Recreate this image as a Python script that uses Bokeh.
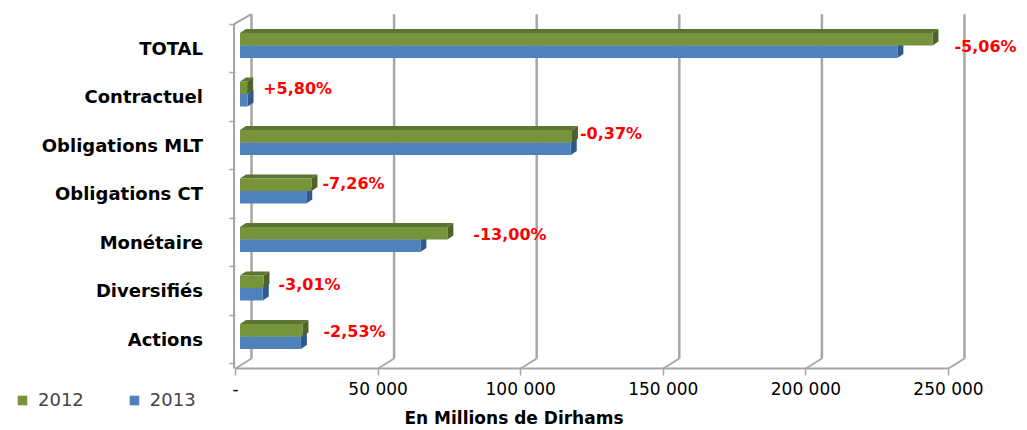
from bokeh.plotting import figure
from bokeh.models import ColumnDataSource, FixedTicker, Legend, LegendItem
from bokeh.embed import file_html
from bokeh.resources import INLINE
from bokeh.core.properties import value

# ---------------- data ----------------
categories = ["Actions", "Diversifiés", "Monétaire", "Obligations CT",
              "Obligations MLT", "Contractuel", "TOTAL"]
values_2012 = [21900, 8230, 72700, 25050, 116400, 2500, 242800]
values_2013 = [21350, 7980, 63250, 23230, 115970, 2645, 230500]
changes = ["-2,53%", "-3,01%", "-13,00%", "-7,26%", "-0,37%", "+5,80%", "-5,06%"]
series_names = ["2012", "2013"]
x_ticks = [0, 50000, 100000, 150000, 200000, 250000]
x_tick_labels = ["-", "50 000", "100 000", "150 000", "200 000", "250 000"]
x_title = "En Millions de Dirhams"

# ---------------- layout / style ----------------
W, H = 1027, 430
PX = 50000 / 142.6          # data units per pixel (x)
PY = 1 / 48.5               # data units per pixel (y)
X0_PX, YF_PX = 235, 368     # pixel position of value 0 and of the floor front edge
y_front = -0.6
x_start = -X0_PX * PX
y_start = y_front - (H - YF_PX) * PY

GREEN, GREEN_SIDE, GREEN_TOP = "#77933C", "#4F6228", "#5C7530"
BLUE, BLUE_SIDE, BLUE_TOP = "#4F81BD", "#2E5A8E", "#3A6AA3"
GRID = "#A6A6A6"

p = figure(width=W, height=H,
           x_range=(x_start, x_start + W * PX),
           y_range=(y_start, y_start + H * PY),
           output_backend="svg", toolbar_location=None,
           min_border=0, min_border_left=0, min_border_right=0,
           min_border_top=0, min_border_bottom=0)
p.outline_line_color = None
p.title.visible = False
p.xgrid.visible = False
p.ygrid.visible = False

# ---------------- walls / floor ----------------
n_cat = len(categories)
dxw, dyw = 16 * PX, 10 * PY
floor_back = y_front + dyw
top_front = n_cat - 0.5
top_back = top_front + dyw
gx = [t + dxw for t in x_ticks]
p.segment(x0=gx, y0=[floor_back] * len(gx), x1=gx, y1=[top_back] * len(gx),
          line_color=GRID, line_width=2.5)
p.segment(x0=x_ticks, y0=[y_front] * len(gx), x1=gx, y1=[floor_back] * len(gx),
          line_color=GRID, line_width=1.8)
p.segment(x0=[x_ticks[0]], y0=[y_front], x1=[x_ticks[-1]], y1=[y_front],
          line_color=GRID, line_width=2)
lx0 = x_ticks[0] - 1.5 * PX
p.segment(x0=[lx0, lx0], y0=[y_front, top_front], x1=[lx0, x_ticks[0] + dxw],
          y1=[top_front, top_back], line_color=GRID, line_width=2)

# ---------------- 3D bars ----------------
off_x, off_y = 4.5 * PX, 3 * PY
bh = 12.5 * PY
dX, dY = 6 * PX, 4 * PY


def bar_parts(vals, lower):
    left, right, bottom, top = [], [], [], []
    side_x, side_y, top_x, top_y = [], [], [], []
    for k, v in enumerate(vals):
        yc = k + off_y
        yb, yt = (yc - bh, yc) if lower else (yc, yc + bh)
        x0, x1 = off_x, v + off_x
        left.append(x0); right.append(x1); bottom.append(yb); top.append(yt)
        side_x.append([x1, x1 + dX, x1 + dX, x1])
        side_y.append([yb, yb + dY, yt + dY, yt])
        top_x.append([x0, x1, x1 + dX, x0 + dX])
        top_y.append([yt, yt, yt + dY, yt + dY])
    return left, right, bottom, top, side_x, side_y, top_x, top_y


bl, br, bb, bt, bsx, bsy, btx, bty = bar_parts(values_2013, True)
gl, gr, gb, gt, gsx, gsy, gtx, gty = bar_parts(values_2012, False)

p.patches(xs=btx, ys=bty, fill_color=BLUE_TOP, line_color=None)
p.patches(xs=bsx, ys=bsy, fill_color=BLUE_SIDE, line_color=None)
b_front = p.quad(left=bl, right=br, bottom=bb, top=bt, fill_color=BLUE, line_color=None)
p.patches(xs=gtx, ys=gty, fill_color=GREEN_TOP, line_color=None)
p.patches(xs=gsx, ys=gsy, fill_color=GREEN_SIDE, line_color=None)
g_front = p.quad(left=gl, right=gr, bottom=gb, top=gt, fill_color=GREEN, line_color=None)

# ---------------- percentage labels ----------------
lab_dx = [21, 15, 26, 11, 8, 16, 22]        # px right of 2012 bar end
lab_dy = [8, 6, 8, 10, 12, 8, 2]            # px above category centre
lab_src = ColumnDataSource(dict(
    x=[v + off_x + d * PX for v, d in zip(values_2012, lab_dx)],
    y=[k + d * PY for k, d in enumerate(lab_dy)],
    t=changes))
p.text(x="x", y="y", text="t", source=lab_src, text_color="#FF0000",
       text_font=value("DejaVu Sans"), text_font_style="bold",
       text_font_size="16px", text_baseline="middle", text_align="left")

# ---------------- axes ----------------
xa = p.xaxis[0]
xa.fixed_location = y_front
xa.ticker = FixedTicker(ticks=x_ticks)
xa.major_label_overrides = {t: l for t, l in zip(x_ticks, x_tick_labels)}
xa.axis_line_color = None
xa.major_tick_line_color = GRID
xa.major_tick_line_width = 1.5
xa.major_tick_out = 7
xa.major_tick_in = 0
xa.minor_tick_line_color = None
xa.major_label_standoff = 3
xa.major_label_text_font = "DejaVu Sans"
xa.major_label_text_font_size = "17px"
xa.major_label_text_color = "#000000"
xa.axis_label = x_title
xa.axis_label_standoff = 6
xa.axis_label_text_font = "DejaVu Sans"
xa.axis_label_text_font_style = "bold"
xa.axis_label_text_font_size = "17px"
xa.axis_label_text_color = "#000000"

ya = p.yaxis[0]
ya.fixed_location = lx0
ya.ticker = FixedTicker(ticks=list(range(n_cat)),
                        minor_ticks=[k - 0.5 for k in range(n_cat + 1)])
ya.major_label_overrides = {k: c for k, c in enumerate(categories)}
ya.axis_line_color = None
ya.major_tick_line_color = None
ya.major_tick_out = 0
ya.major_tick_in = 0
ya.minor_tick_line_color = GRID
ya.minor_tick_line_width = 1.5
ya.minor_tick_out = 5
ya.minor_tick_in = 1
ya.major_label_standoff = 26
ya.major_label_text_font = "DejaVu Sans"
ya.major_label_text_font_style = "bold"
ya.major_label_text_font_size = "18px"
ya.major_label_text_color = "#000000"

legend = Legend(items=[LegendItem(label=series_names[0], renderers=[g_front]),
                       LegendItem(label=series_names[1], renderers=[b_front])],
                orientation="horizontal", location=(16, 20),
                padding=0, margin=0, spacing=44, label_standoff=10,
                glyph_width=12, glyph_height=12,
                label_text_font="DejaVu Sans", label_text_font_size="18px",
                border_line_color=None, background_fill_alpha=0)
p.add_layout(legend)

open("out.html", "w").write(file_html(p, INLINE))
